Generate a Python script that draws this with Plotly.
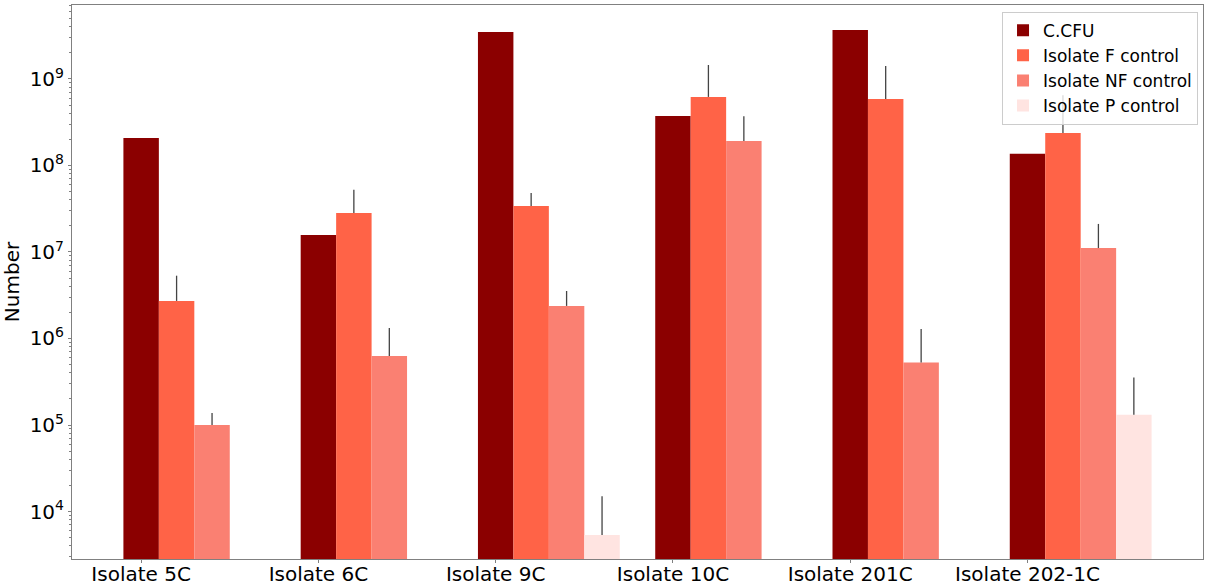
import plotly.graph_objects as go

categories = ["Isolate 5C", "Isolate 6C", "Isolate 9C", "Isolate 10C", "Isolate 201C", "Isolate 202-1C"]
series_names = ["C.CFU", "Isolate F control", "Isolate NF control", "Isolate P control"]

cfu = [2.08e8, 1.57e7, 3.49e9, 3.73e8, 3.68e9, 1.37e8]
f_ctrl = [2.72e6, 2.83e7, 3.4e7, 6.2e8, 5.88e8, 2.38e8]
nf_ctrl = [1.0e5, 6.28e5, 2.38e6, 1.92e8, 5.28e5, 1.11e7]
p_ctrl = [None, None, 5.35e3, None, None, 1.31e5]

f_err = [2.6e6, 2.4e7, 1.4e7, 8.3e8, 8.2e8, 4.1e8]
nf_err = [3.8e4, 6.9e5, 1.16e6, 1.78e8, 7.6e5, 1.0e7]
p_err = [None, None, 9.7e3, None, None, 2.23e5]

colors = ["#8B0000", "#FF6347", "#FA8072", "#FFE4E1"]
values = [cfu, f_ctrl, nf_ctrl, p_ctrl]
errors = [None, f_err, nf_err, p_err]

bar_w = 0.2
idx = list(range(len(categories)))

fig = go.Figure()
for k, (name, vals, errs, col) in enumerate(zip(series_names, values, errors, colors)):
    xs = [i + k * bar_w for i in idx]
    tr = dict(x=xs, y=vals, name=name, width=bar_w, marker=dict(color=col, line=dict(width=0)))
    if errs is not None:
        tr["error_y"] = dict(type="data", symmetric=False,
                             array=[e if e is not None else 0 for e in errs],
                             arrayminus=[0] * len(errs),
                             width=0, color="#444444", thickness=1.3)
    fig.add_trace(go.Bar(**tr))

tick_vals = [1e4, 1e5, 1e6, 1e7, 1e8, 1e9]
tick_text = ["10<sup>%d</sup>" % p for p in range(4, 10)]

fig.update_layout(
    width=1205, height=588,
    margin=dict(l=72, r=2, t=5, b=29),
    barmode="overlay",
    plot_bgcolor="white", paper_bgcolor="white",
    font=dict(family="DejaVu Sans", size=20, color="black"),
    showlegend=True,
    legend=dict(x=0.9956, y=0.988, xanchor="right", yanchor="top",
                bgcolor="rgba(255,255,255,0.8)", bordercolor="#cccccc", borderwidth=1,
                font=dict(size=17), tracegroupgap=0),
    xaxis=dict(range=[-0.39, 5.99], tickmode="array", tickvals=idx, ticktext=categories,
               automargin=False, ticklabelstandoff=-6,
               showline=True, linecolor="#808080", linewidth=1, mirror=True,
               ticks="outside", ticklen=3, tickcolor="#808080", showgrid=False, zeroline=False),
    yaxis=dict(type="log", range=[3.451, 9.855], tickmode="array", tickvals=tick_vals, ticktext=tick_text,
               automargin=False,
               showline=True, linecolor="#808080", linewidth=1, mirror=True,
               ticks="outside", ticklen=3, tickcolor="#808080", showgrid=False, zeroline=False,
               title=dict(text="Number", standoff=6, font=dict(size=20)),
               minor=dict(ticks="outside", ticklen=2, tickcolor="#808080", dtick="D1", showgrid=False)),
)

fig.write_html("out.html", config={"displayModeBar": False},
               post_script="document.body.style.margin='0';document.body.style.overflow='hidden';")
